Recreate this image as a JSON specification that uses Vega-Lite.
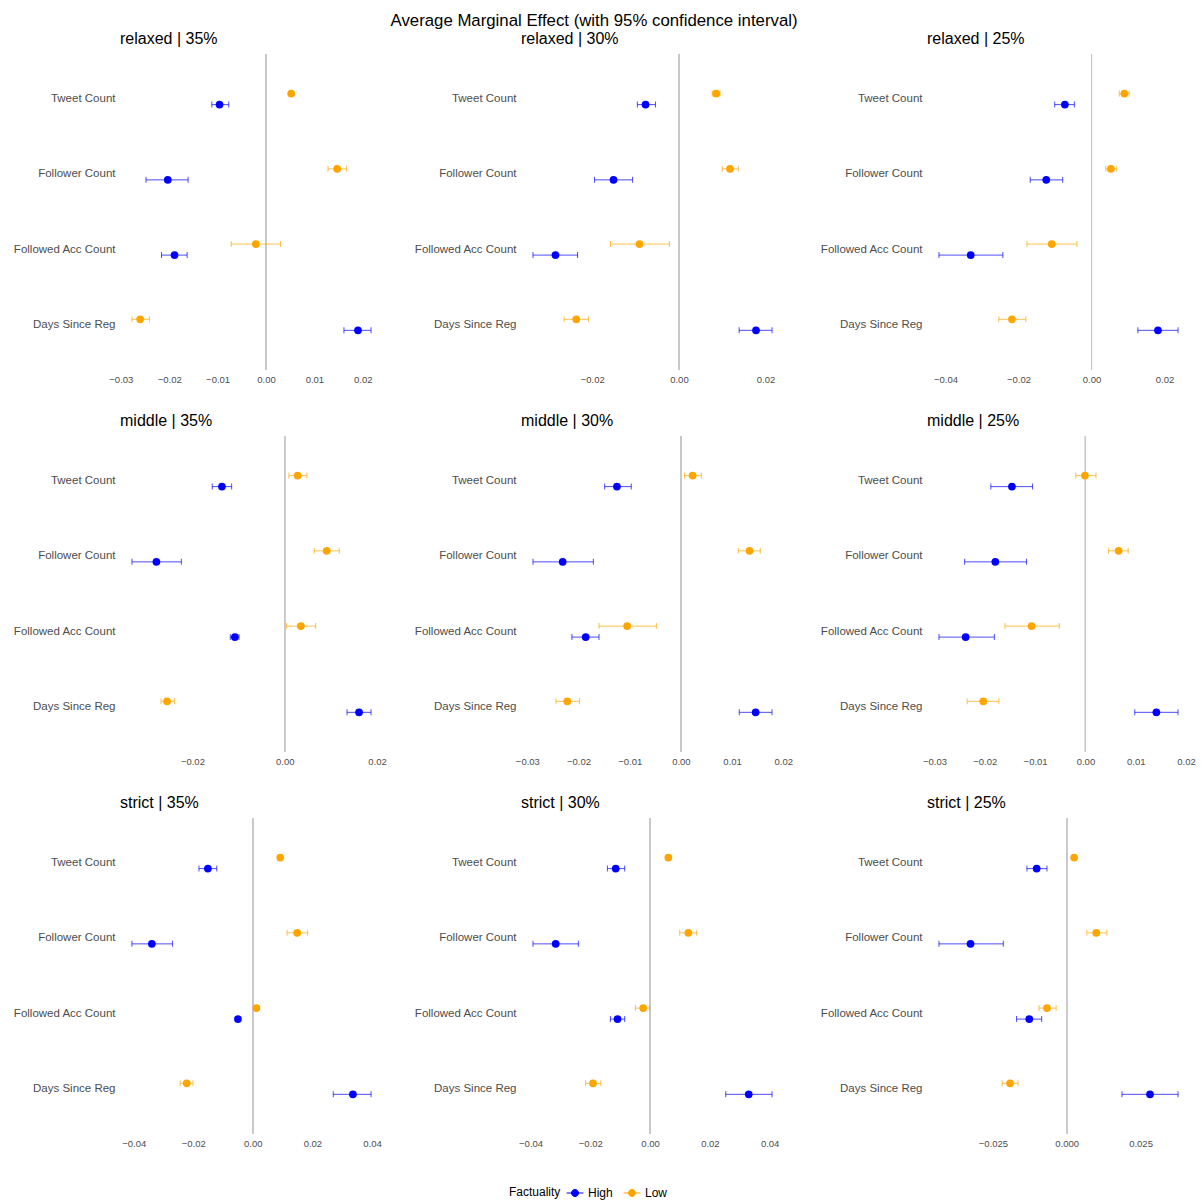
{
  "$schema": "https://vega.github.io/schema/vega-lite/v6.json",
  "background": "white",
  "padding": {"left": 12, "top": 12, "right": 5, "bottom": 5},
  "title": {"text": "Average Marginal Effect (with 95% confidence interval)", "anchor": "middle", "frame": "bounds", "fontSize": 16.8, "offset": 1, "dx": -10},
  "datasets": {
    "ame": [
      {"panel": "relaxed | 35%", "var": "Tweet Count", "fact": "Low", "est": 0.0052, "lo": 0.0049, "hi": 0.0055},
      {"panel": "relaxed | 35%", "var": "Tweet Count", "fact": "High", "est": -0.0096, "lo": -0.0112, "hi": -0.0077},
      {"panel": "relaxed | 35%", "var": "Follower Count", "fact": "Low", "est": 0.0147, "lo": 0.0128, "hi": 0.0166},
      {"panel": "relaxed | 35%", "var": "Follower Count", "fact": "High", "est": -0.0203, "lo": -0.0248, "hi": -0.0161},
      {"panel": "relaxed | 35%", "var": "Followed Acc Count", "fact": "Low", "est": -0.0021, "lo": -0.0072, "hi": 0.0030},
      {"panel": "relaxed | 35%", "var": "Followed Acc Count", "fact": "High", "est": -0.0189, "lo": -0.0216, "hi": -0.0163},
      {"panel": "relaxed | 35%", "var": "Days Since Reg", "fact": "Low", "est": -0.0260, "lo": -0.0277, "hi": -0.0241},
      {"panel": "relaxed | 35%", "var": "Days Since Reg", "fact": "High", "est": 0.0190, "lo": 0.0161, "hi": 0.0217},

      {"panel": "relaxed | 30%", "var": "Tweet Count", "fact": "Low", "est": 0.0086, "lo": 0.0077, "hi": 0.0095},
      {"panel": "relaxed | 30%", "var": "Tweet Count", "fact": "High", "est": -0.0077, "lo": -0.0096, "hi": -0.0054},
      {"panel": "relaxed | 30%", "var": "Follower Count", "fact": "Low", "est": 0.0118, "lo": 0.0100, "hi": 0.0137},
      {"panel": "relaxed | 30%", "var": "Follower Count", "fact": "High", "est": -0.0151, "lo": -0.0195, "hi": -0.0107},
      {"panel": "relaxed | 30%", "var": "Followed Acc Count", "fact": "Low", "est": -0.0091, "lo": -0.0158, "hi": -0.0022},
      {"panel": "relaxed | 30%", "var": "Followed Acc Count", "fact": "High", "est": -0.0285, "lo": -0.0337, "hi": -0.0234},
      {"panel": "relaxed | 30%", "var": "Days Since Reg", "fact": "Low", "est": -0.0237, "lo": -0.0265, "hi": -0.0209},
      {"panel": "relaxed | 30%", "var": "Days Since Reg", "fact": "High", "est": 0.0178, "lo": 0.0139, "hi": 0.0215},

      {"panel": "relaxed | 25%", "var": "Tweet Count", "fact": "Low", "est": 0.0090, "lo": 0.0076, "hi": 0.0103},
      {"panel": "relaxed | 25%", "var": "Tweet Count", "fact": "High", "est": -0.0073, "lo": -0.0101, "hi": -0.0047},
      {"panel": "relaxed | 25%", "var": "Follower Count", "fact": "Low", "est": 0.0053, "lo": 0.0039, "hi": 0.0069},
      {"panel": "relaxed | 25%", "var": "Follower Count", "fact": "High", "est": -0.0124, "lo": -0.0168, "hi": -0.0079},
      {"panel": "relaxed | 25%", "var": "Followed Acc Count", "fact": "Low", "est": -0.0109, "lo": -0.0177, "hi": -0.0040},
      {"panel": "relaxed | 25%", "var": "Followed Acc Count", "fact": "High", "est": -0.0331, "lo": -0.0418, "hi": -0.0243},
      {"panel": "relaxed | 25%", "var": "Days Since Reg", "fact": "Low", "est": -0.0218, "lo": -0.0254, "hi": -0.0180},
      {"panel": "relaxed | 25%", "var": "Days Since Reg", "fact": "High", "est": 0.0182, "lo": 0.0127, "hi": 0.0237},

      {"panel": "middle | 35%", "var": "Tweet Count", "fact": "Low", "est": 0.0028, "lo": 0.0009, "hi": 0.0048},
      {"panel": "middle | 35%", "var": "Tweet Count", "fact": "High", "est": -0.0136, "lo": -0.0157, "hi": -0.0115},
      {"panel": "middle | 35%", "var": "Follower Count", "fact": "Low", "est": 0.0091, "lo": 0.0064, "hi": 0.0118},
      {"panel": "middle | 35%", "var": "Follower Count", "fact": "High", "est": -0.0278, "lo": -0.0331, "hi": -0.0224},
      {"panel": "middle | 35%", "var": "Followed Acc Count", "fact": "Low", "est": 0.0035, "lo": 0.0004, "hi": 0.0067},
      {"panel": "middle | 35%", "var": "Followed Acc Count", "fact": "High", "est": -0.0108, "lo": -0.0118, "hi": -0.0099},
      {"panel": "middle | 35%", "var": "Days Since Reg", "fact": "Low", "est": -0.0255, "lo": -0.0268, "hi": -0.0239},
      {"panel": "middle | 35%", "var": "Days Since Reg", "fact": "High", "est": 0.0161, "lo": 0.0135, "hi": 0.0187},

      {"panel": "middle | 30%", "var": "Tweet Count", "fact": "Low", "est": 0.0023, "lo": 0.0007, "hi": 0.0040},
      {"panel": "middle | 30%", "var": "Tweet Count", "fact": "High", "est": -0.0125, "lo": -0.0149, "hi": -0.0097},
      {"panel": "middle | 30%", "var": "Follower Count", "fact": "Low", "est": 0.0134, "lo": 0.0112, "hi": 0.0155},
      {"panel": "middle | 30%", "var": "Follower Count", "fact": "High", "est": -0.0231, "lo": -0.0289, "hi": -0.0171},
      {"panel": "middle | 30%", "var": "Followed Acc Count", "fact": "Low", "est": -0.0105, "lo": -0.0160, "hi": -0.0048},
      {"panel": "middle | 30%", "var": "Followed Acc Count", "fact": "High", "est": -0.0186, "lo": -0.0213, "hi": -0.0160},
      {"panel": "middle | 30%", "var": "Days Since Reg", "fact": "Low", "est": -0.0222, "lo": -0.0244, "hi": -0.0198},
      {"panel": "middle | 30%", "var": "Days Since Reg", "fact": "High", "est": 0.0146, "lo": 0.0114, "hi": 0.0178},

      {"panel": "middle | 25%", "var": "Tweet Count", "fact": "Low", "est": -0.0001, "lo": -0.0019, "hi": 0.0021},
      {"panel": "middle | 25%", "var": "Tweet Count", "fact": "High", "est": -0.0146, "lo": -0.0188, "hi": -0.0105},
      {"panel": "middle | 25%", "var": "Follower Count", "fact": "Low", "est": 0.0066, "lo": 0.0046, "hi": 0.0085},
      {"panel": "middle | 25%", "var": "Follower Count", "fact": "High", "est": -0.0179, "lo": -0.0240, "hi": -0.0117},
      {"panel": "middle | 25%", "var": "Followed Acc Count", "fact": "Low", "est": -0.0107, "lo": -0.0160, "hi": -0.0052},
      {"panel": "middle | 25%", "var": "Followed Acc Count", "fact": "High", "est": -0.0238, "lo": -0.0291, "hi": -0.0181},
      {"panel": "middle | 25%", "var": "Days Since Reg", "fact": "Low", "est": -0.0203, "lo": -0.0235, "hi": -0.0172},
      {"panel": "middle | 25%", "var": "Days Since Reg", "fact": "High", "est": 0.0141, "lo": 0.0098, "hi": 0.0184},

      {"panel": "strict | 35%", "var": "Tweet Count", "fact": "Low", "est": 0.0092, "lo": 0.0089, "hi": 0.0095},
      {"panel": "strict | 35%", "var": "Tweet Count", "fact": "High", "est": -0.0151, "lo": -0.0181, "hi": -0.0121},
      {"panel": "strict | 35%", "var": "Follower Count", "fact": "Low", "est": 0.0149, "lo": 0.0115, "hi": 0.0184},
      {"panel": "strict | 35%", "var": "Follower Count", "fact": "High", "est": -0.0339, "lo": -0.0406, "hi": -0.0270},
      {"panel": "strict | 35%", "var": "Followed Acc Count", "fact": "Low", "est": 0.0012, "lo": 0.0009, "hi": 0.0015},
      {"panel": "strict | 35%", "var": "Followed Acc Count", "fact": "High", "est": -0.0050, "lo": -0.0053, "hi": -0.0047},
      {"panel": "strict | 35%", "var": "Days Since Reg", "fact": "Low", "est": -0.0222, "lo": -0.0244, "hi": -0.0201},
      {"panel": "strict | 35%", "var": "Days Since Reg", "fact": "High", "est": 0.0336, "lo": 0.0270, "hi": 0.0397},

      {"panel": "strict | 30%", "var": "Tweet Count", "fact": "Low", "est": 0.0061, "lo": 0.0058, "hi": 0.0064},
      {"panel": "strict | 30%", "var": "Tweet Count", "fact": "High", "est": -0.0115, "lo": -0.0143, "hi": -0.0085},
      {"panel": "strict | 30%", "var": "Follower Count", "fact": "Low", "est": 0.0128, "lo": 0.0099, "hi": 0.0156},
      {"panel": "strict | 30%", "var": "Follower Count", "fact": "High", "est": -0.0316, "lo": -0.0392, "hi": -0.0240},
      {"panel": "strict | 30%", "var": "Followed Acc Count", "fact": "Low", "est": -0.0023, "lo": -0.0049, "hi": -0.0002},
      {"panel": "strict | 30%", "var": "Followed Acc Count", "fact": "High", "est": -0.0109, "lo": -0.0133, "hi": -0.0085},
      {"panel": "strict | 30%", "var": "Days Since Reg", "fact": "Low", "est": -0.0191, "lo": -0.0216, "hi": -0.0165},
      {"panel": "strict | 30%", "var": "Days Since Reg", "fact": "High", "est": 0.0330, "lo": 0.0253, "hi": 0.0408},

      {"panel": "strict | 25%", "var": "Tweet Count", "fact": "Low", "est": 0.0025, "lo": 0.0022, "hi": 0.0028},
      {"panel": "strict | 25%", "var": "Tweet Count", "fact": "High", "est": -0.0102, "lo": -0.0135, "hi": -0.0067},
      {"panel": "strict | 25%", "var": "Follower Count", "fact": "Low", "est": 0.0100, "lo": 0.0068, "hi": 0.0136},
      {"panel": "strict | 25%", "var": "Follower Count", "fact": "High", "est": -0.0326, "lo": -0.0433, "hi": -0.0215},
      {"panel": "strict | 25%", "var": "Followed Acc Count", "fact": "Low", "est": -0.0067, "lo": -0.0094, "hi": -0.0036},
      {"panel": "strict | 25%", "var": "Followed Acc Count", "fact": "High", "est": -0.0127, "lo": -0.0170, "hi": -0.0085},
      {"panel": "strict | 25%", "var": "Days Since Reg", "fact": "Low", "est": -0.0192, "lo": -0.0219, "hi": -0.0165},
      {"panel": "strict | 25%", "var": "Days Since Reg", "fact": "High", "est": 0.0282, "lo": 0.0187, "hi": 0.0377}
    ]
  },
  "data": {"name": "ame"},
  "columns": 3,
  "spacing": {"row": 28, "column": 26},
  "resolve": {"scale": {"color": "shared"}, "legend": {"color": "shared"}},
  "concat": [
    {"title": "relaxed | 35%", "width": 263, "height": 316,
     "transform": [{"filter": {"field": "panel", "equal": "relaxed | 35%"}}],
     "layer": [
      {"mark": {"type": "rule", "color": "#C8C8C8", "strokeWidth": 1}, "encoding": {"x": {"datum": 0, "type": "quantitative", "title": null}}},
      {"mark": {"type": "rule", "strokeWidth": 1, "opacity": 0.7}, "encoding": {"y": {"field": "var", "type": "nominal", "title": null, "sort": null, "scale": {"type": "band", "domain": ["Tweet Count", "Follower Count", "Followed Acc Count", "Days Since Reg"], "paddingInner": 0, "paddingOuter": 0.1}}, "yOffset": {"field": "fact", "type": "nominal", "scale": {"domain": ["Low", "High"], "range": [26.6, 48.6], "paddingInner": 0, "paddingOuter": 0}}, "x": {"field": "lo", "type": "quantitative", "title": null}, "x2": {"field": "hi"}, "color": {"field": "fact", "type": "nominal"}}},
      {"mark": {"type": "tick", "thickness": 1, "size": 6, "opacity": 0.7}, "encoding": {"y": {"field": "var", "type": "nominal", "title": null, "sort": null}, "yOffset": {"field": "fact", "type": "nominal"}, "x": {"field": "lo", "type": "quantitative", "title": null}, "color": {"field": "fact", "type": "nominal"}}},
      {"mark": {"type": "tick", "thickness": 1, "size": 6, "opacity": 0.7}, "encoding": {"y": {"field": "var", "type": "nominal", "title": null, "sort": null}, "yOffset": {"field": "fact", "type": "nominal"}, "x": {"field": "hi", "type": "quantitative", "title": null}, "color": {"field": "fact", "type": "nominal"}}},
      {"mark": {"type": "point", "filled": true, "size": 60, "opacity": 1}, "encoding": {"y": {"field": "var", "type": "nominal", "title": null, "sort": null}, "yOffset": {"field": "fact", "type": "nominal"}, "x": {"field": "est", "type": "quantitative", "title": null, "scale": {"domain": [-0.03017, 0.02417], "nice": false, "zero": false}, "axis": {"values": [-0.03, -0.02, -0.01, 0, 0.01, 0.02], "format": ".2f"}}, "color": {"field": "fact", "type": "nominal", "scale": {"domain": ["High", "Low"], "range": ["#0000FF", "#FFA500"]}, "legend": {"title": "Factuality", "orient": "none", "legendX": 389, "legendY": 1130, "direction": "horizontal", "titleOrient": "left", "encoding": {"symbols": {"update": {"stroke": {"scale": "color", "field": "value"}, "fill": {"scale": "color", "field": "value"}}}}}}}}
     ]},
    {"title": "relaxed | 30%", "width": 263, "height": 316,
     "transform": [{"filter": {"field": "panel", "equal": "relaxed | 30%"}}],
     "layer": [
      {"mark": {"type": "rule", "color": "#C8C8C8", "strokeWidth": 1}, "encoding": {"x": {"datum": 0, "type": "quantitative", "title": null}}},
      {"mark": {"type": "rule", "strokeWidth": 1, "opacity": 0.7}, "encoding": {"y": {"field": "var", "type": "nominal", "title": null, "sort": null, "scale": {"type": "band", "domain": ["Tweet Count", "Follower Count", "Followed Acc Count", "Days Since Reg"], "paddingInner": 0, "paddingOuter": 0.1}}, "yOffset": {"field": "fact", "type": "nominal", "scale": {"domain": ["Low", "High"], "range": [26.6, 48.6], "paddingInner": 0, "paddingOuter": 0}}, "x": {"field": "lo", "type": "quantitative", "title": null}, "x2": {"field": "hi"}, "color": {"field": "fact", "type": "nominal"}}},
      {"mark": {"type": "tick", "thickness": 1, "size": 6, "opacity": 0.7}, "encoding": {"y": {"field": "var", "type": "nominal", "title": null, "sort": null}, "yOffset": {"field": "fact", "type": "nominal"}, "x": {"field": "lo", "type": "quantitative", "title": null}, "color": {"field": "fact", "type": "nominal"}}},
      {"mark": {"type": "tick", "thickness": 1, "size": 6, "opacity": 0.7}, "encoding": {"y": {"field": "var", "type": "nominal", "title": null, "sort": null}, "yOffset": {"field": "fact", "type": "nominal"}, "x": {"field": "hi", "type": "quantitative", "title": null}, "color": {"field": "fact", "type": "nominal"}}},
      {"mark": {"type": "point", "filled": true, "size": 60, "opacity": 1}, "encoding": {"y": {"field": "var", "type": "nominal", "title": null, "sort": null}, "yOffset": {"field": "fact", "type": "nominal"}, "x": {"field": "est", "type": "quantitative", "title": null, "scale": {"domain": [-0.03646, 0.02426], "nice": false, "zero": false}, "axis": {"values": [-0.02, 0, 0.02], "format": ".2f"}}, "color": {"field": "fact", "type": "nominal", "scale": {"domain": ["High", "Low"], "range": ["#0000FF", "#FFA500"]}}}}
     ]},
    {"title": "relaxed | 25%", "width": 263, "height": 316,
     "transform": [{"filter": {"field": "panel", "equal": "relaxed | 25%"}}],
     "layer": [
      {"mark": {"type": "rule", "color": "#C8C8C8", "strokeWidth": 1}, "encoding": {"x": {"datum": 0, "type": "quantitative", "title": null}}},
      {"mark": {"type": "rule", "strokeWidth": 1, "opacity": 0.7}, "encoding": {"y": {"field": "var", "type": "nominal", "title": null, "sort": null, "scale": {"type": "band", "domain": ["Tweet Count", "Follower Count", "Followed Acc Count", "Days Since Reg"], "paddingInner": 0, "paddingOuter": 0.1}}, "yOffset": {"field": "fact", "type": "nominal", "scale": {"domain": ["Low", "High"], "range": [26.6, 48.6], "paddingInner": 0, "paddingOuter": 0}}, "x": {"field": "lo", "type": "quantitative", "title": null}, "x2": {"field": "hi"}, "color": {"field": "fact", "type": "nominal"}}},
      {"mark": {"type": "tick", "thickness": 1, "size": 6, "opacity": 0.7}, "encoding": {"y": {"field": "var", "type": "nominal", "title": null, "sort": null}, "yOffset": {"field": "fact", "type": "nominal"}, "x": {"field": "lo", "type": "quantitative", "title": null}, "color": {"field": "fact", "type": "nominal"}}},
      {"mark": {"type": "tick", "thickness": 1, "size": 6, "opacity": 0.7}, "encoding": {"y": {"field": "var", "type": "nominal", "title": null, "sort": null}, "yOffset": {"field": "fact", "type": "nominal"}, "x": {"field": "hi", "type": "quantitative", "title": null}, "color": {"field": "fact", "type": "nominal"}}},
      {"mark": {"type": "point", "filled": true, "size": 60, "opacity": 1}, "encoding": {"y": {"field": "var", "type": "nominal", "title": null, "sort": null}, "yOffset": {"field": "fact", "type": "nominal"}, "x": {"field": "est", "type": "quantitative", "title": null, "scale": {"domain": [-0.04508, 0.02698], "nice": false, "zero": false}, "axis": {"values": [-0.04, -0.02, 0, 0.02], "format": ".2f"}}, "color": {"field": "fact", "type": "nominal", "scale": {"domain": ["High", "Low"], "range": ["#0000FF", "#FFA500"]}}}}
     ]},
    {"title": "middle | 35%", "width": 263, "height": 316,
     "transform": [{"filter": {"field": "panel", "equal": "middle | 35%"}}],
     "layer": [
      {"mark": {"type": "rule", "color": "#C8C8C8", "strokeWidth": 1}, "encoding": {"x": {"datum": 0, "type": "quantitative", "title": null}}},
      {"mark": {"type": "rule", "strokeWidth": 1, "opacity": 0.7}, "encoding": {"y": {"field": "var", "type": "nominal", "title": null, "sort": null, "scale": {"type": "band", "domain": ["Tweet Count", "Follower Count", "Followed Acc Count", "Days Since Reg"], "paddingInner": 0, "paddingOuter": 0.1}}, "yOffset": {"field": "fact", "type": "nominal", "scale": {"domain": ["Low", "High"], "range": [26.6, 48.6], "paddingInner": 0, "paddingOuter": 0}}, "x": {"field": "lo", "type": "quantitative", "title": null}, "x2": {"field": "hi"}, "color": {"field": "fact", "type": "nominal"}}},
      {"mark": {"type": "tick", "thickness": 1, "size": 6, "opacity": 0.7}, "encoding": {"y": {"field": "var", "type": "nominal", "title": null, "sort": null}, "yOffset": {"field": "fact", "type": "nominal"}, "x": {"field": "lo", "type": "quantitative", "title": null}, "color": {"field": "fact", "type": "nominal"}}},
      {"mark": {"type": "tick", "thickness": 1, "size": 6, "opacity": 0.7}, "encoding": {"y": {"field": "var", "type": "nominal", "title": null, "sort": null}, "yOffset": {"field": "fact", "type": "nominal"}, "x": {"field": "hi", "type": "quantitative", "title": null}, "color": {"field": "fact", "type": "nominal"}}},
      {"mark": {"type": "point", "filled": true, "size": 60, "opacity": 1}, "encoding": {"y": {"field": "var", "type": "nominal", "title": null, "sort": null}, "yOffset": {"field": "fact", "type": "nominal"}, "x": {"field": "est", "type": "quantitative", "title": null, "scale": {"domain": [-0.03569, 0.02129], "nice": false, "zero": false}, "axis": {"values": [-0.02, 0, 0.02], "format": ".2f"}}, "color": {"field": "fact", "type": "nominal", "scale": {"domain": ["High", "Low"], "range": ["#0000FF", "#FFA500"]}}}}
     ]},
    {"title": "middle | 30%", "width": 263, "height": 316,
     "transform": [{"filter": {"field": "panel", "equal": "middle | 30%"}}],
     "layer": [
      {"mark": {"type": "rule", "color": "#C8C8C8", "strokeWidth": 1}, "encoding": {"x": {"datum": 0, "type": "quantitative", "title": null}}},
      {"mark": {"type": "rule", "strokeWidth": 1, "opacity": 0.7}, "encoding": {"y": {"field": "var", "type": "nominal", "title": null, "sort": null, "scale": {"type": "band", "domain": ["Tweet Count", "Follower Count", "Followed Acc Count", "Days Since Reg"], "paddingInner": 0, "paddingOuter": 0.1}}, "yOffset": {"field": "fact", "type": "nominal", "scale": {"domain": ["Low", "High"], "range": [26.6, 48.6], "paddingInner": 0, "paddingOuter": 0}}, "x": {"field": "lo", "type": "quantitative", "title": null}, "x2": {"field": "hi"}, "color": {"field": "fact", "type": "nominal"}}},
      {"mark": {"type": "tick", "thickness": 1, "size": 6, "opacity": 0.7}, "encoding": {"y": {"field": "var", "type": "nominal", "title": null, "sort": null}, "yOffset": {"field": "fact", "type": "nominal"}, "x": {"field": "lo", "type": "quantitative", "title": null}, "color": {"field": "fact", "type": "nominal"}}},
      {"mark": {"type": "tick", "thickness": 1, "size": 6, "opacity": 0.7}, "encoding": {"y": {"field": "var", "type": "nominal", "title": null, "sort": null}, "yOffset": {"field": "fact", "type": "nominal"}, "x": {"field": "hi", "type": "quantitative", "title": null}, "color": {"field": "fact", "type": "nominal"}}},
      {"mark": {"type": "point", "filled": true, "size": 60, "opacity": 1}, "encoding": {"y": {"field": "var", "type": "nominal", "title": null, "sort": null}, "yOffset": {"field": "fact", "type": "nominal"}, "x": {"field": "est", "type": "quantitative", "title": null, "scale": {"domain": [-0.03124, 0.02014], "nice": false, "zero": false}, "axis": {"values": [-0.03, -0.02, -0.01, 0, 0.01, 0.02], "format": ".2f"}}, "color": {"field": "fact", "type": "nominal", "scale": {"domain": ["High", "Low"], "range": ["#0000FF", "#FFA500"]}}}}
     ]},
    {"title": "middle | 25%", "width": 263, "height": 316,
     "transform": [{"filter": {"field": "panel", "equal": "middle | 25%"}}],
     "layer": [
      {"mark": {"type": "rule", "color": "#C8C8C8", "strokeWidth": 1}, "encoding": {"x": {"datum": 0, "type": "quantitative", "title": null}}},
      {"mark": {"type": "rule", "strokeWidth": 1, "opacity": 0.7}, "encoding": {"y": {"field": "var", "type": "nominal", "title": null, "sort": null, "scale": {"type": "band", "domain": ["Tweet Count", "Follower Count", "Followed Acc Count", "Days Since Reg"], "paddingInner": 0, "paddingOuter": 0.1}}, "yOffset": {"field": "fact", "type": "nominal", "scale": {"domain": ["Low", "High"], "range": [26.6, 48.6], "paddingInner": 0, "paddingOuter": 0}}, "x": {"field": "lo", "type": "quantitative", "title": null}, "x2": {"field": "hi"}, "color": {"field": "fact", "type": "nominal"}}},
      {"mark": {"type": "tick", "thickness": 1, "size": 6, "opacity": 0.7}, "encoding": {"y": {"field": "var", "type": "nominal", "title": null, "sort": null}, "yOffset": {"field": "fact", "type": "nominal"}, "x": {"field": "lo", "type": "quantitative", "title": null}, "color": {"field": "fact", "type": "nominal"}}},
      {"mark": {"type": "tick", "thickness": 1, "size": 6, "opacity": 0.7}, "encoding": {"y": {"field": "var", "type": "nominal", "title": null, "sort": null}, "yOffset": {"field": "fact", "type": "nominal"}, "x": {"field": "hi", "type": "quantitative", "title": null}, "color": {"field": "fact", "type": "nominal"}}},
      {"mark": {"type": "point", "filled": true, "size": 60, "opacity": 1}, "encoding": {"y": {"field": "var", "type": "nominal", "title": null, "sort": null}, "yOffset": {"field": "fact", "type": "nominal"}, "x": {"field": "est", "type": "quantitative", "title": null, "scale": {"domain": [-0.03148, 0.02078], "nice": false, "zero": false}, "axis": {"values": [-0.03, -0.02, -0.01, 0, 0.01, 0.02], "format": ".2f"}}, "color": {"field": "fact", "type": "nominal", "scale": {"domain": ["High", "Low"], "range": ["#0000FF", "#FFA500"]}}}}
     ]},
    {"title": "strict | 35%", "width": 263, "height": 316,
     "transform": [{"filter": {"field": "panel", "equal": "strict | 35%"}}],
     "layer": [
      {"mark": {"type": "rule", "color": "#C8C8C8", "strokeWidth": 1}, "encoding": {"x": {"datum": 0, "type": "quantitative", "title": null}}},
      {"mark": {"type": "rule", "strokeWidth": 1, "opacity": 0.7}, "encoding": {"y": {"field": "var", "type": "nominal", "title": null, "sort": null, "scale": {"type": "band", "domain": ["Tweet Count", "Follower Count", "Followed Acc Count", "Days Since Reg"], "paddingInner": 0, "paddingOuter": 0.1}}, "yOffset": {"field": "fact", "type": "nominal", "scale": {"domain": ["Low", "High"], "range": [26.6, 48.6], "paddingInner": 0, "paddingOuter": 0}}, "x": {"field": "lo", "type": "quantitative", "title": null}, "x2": {"field": "hi"}, "color": {"field": "fact", "type": "nominal"}}},
      {"mark": {"type": "tick", "thickness": 1, "size": 6, "opacity": 0.7}, "encoding": {"y": {"field": "var", "type": "nominal", "title": null, "sort": null}, "yOffset": {"field": "fact", "type": "nominal"}, "x": {"field": "lo", "type": "quantitative", "title": null}, "color": {"field": "fact", "type": "nominal"}}},
      {"mark": {"type": "tick", "thickness": 1, "size": 6, "opacity": 0.7}, "encoding": {"y": {"field": "var", "type": "nominal", "title": null, "sort": null}, "yOffset": {"field": "fact", "type": "nominal"}, "x": {"field": "hi", "type": "quantitative", "title": null}, "color": {"field": "fact", "type": "nominal"}}},
      {"mark": {"type": "point", "filled": true, "size": 60, "opacity": 1}, "encoding": {"y": {"field": "var", "type": "nominal", "title": null, "sort": null}, "yOffset": {"field": "fact", "type": "nominal"}, "x": {"field": "est", "type": "quantitative", "title": null, "scale": {"domain": [-0.0446, 0.0437], "nice": false, "zero": false}, "axis": {"values": [-0.04, -0.02, 0, 0.02, 0.04], "format": ".2f"}}, "color": {"field": "fact", "type": "nominal", "scale": {"domain": ["High", "Low"], "range": ["#0000FF", "#FFA500"]}}}}
     ]},
    {"title": "strict | 30%", "width": 263, "height": 316,
     "transform": [{"filter": {"field": "panel", "equal": "strict | 30%"}}],
     "layer": [
      {"mark": {"type": "rule", "color": "#C8C8C8", "strokeWidth": 1}, "encoding": {"x": {"datum": 0, "type": "quantitative", "title": null}}},
      {"mark": {"type": "rule", "strokeWidth": 1, "opacity": 0.7}, "encoding": {"y": {"field": "var", "type": "nominal", "title": null, "sort": null, "scale": {"type": "band", "domain": ["Tweet Count", "Follower Count", "Followed Acc Count", "Days Since Reg"], "paddingInner": 0, "paddingOuter": 0.1}}, "yOffset": {"field": "fact", "type": "nominal", "scale": {"domain": ["Low", "High"], "range": [26.6, 48.6], "paddingInner": 0, "paddingOuter": 0}}, "x": {"field": "lo", "type": "quantitative", "title": null}, "x2": {"field": "hi"}, "color": {"field": "fact", "type": "nominal"}}},
      {"mark": {"type": "tick", "thickness": 1, "size": 6, "opacity": 0.7}, "encoding": {"y": {"field": "var", "type": "nominal", "title": null, "sort": null}, "yOffset": {"field": "fact", "type": "nominal"}, "x": {"field": "lo", "type": "quantitative", "title": null}, "color": {"field": "fact", "type": "nominal"}}},
      {"mark": {"type": "tick", "thickness": 1, "size": 6, "opacity": 0.7}, "encoding": {"y": {"field": "var", "type": "nominal", "title": null, "sort": null}, "yOffset": {"field": "fact", "type": "nominal"}, "x": {"field": "hi", "type": "quantitative", "title": null}, "color": {"field": "fact", "type": "nominal"}}},
      {"mark": {"type": "point", "filled": true, "size": 60, "opacity": 1}, "encoding": {"y": {"field": "var", "type": "nominal", "title": null, "sort": null}, "yOffset": {"field": "fact", "type": "nominal"}, "x": {"field": "est", "type": "quantitative", "title": null, "scale": {"domain": [-0.0432, 0.0448], "nice": false, "zero": false}, "axis": {"values": [-0.04, -0.02, 0, 0.02, 0.04], "format": ".2f"}}, "color": {"field": "fact", "type": "nominal", "scale": {"domain": ["High", "Low"], "range": ["#0000FF", "#FFA500"]}}}}
     ]},
    {"title": "strict | 25%", "width": 263, "height": 316,
     "transform": [{"filter": {"field": "panel", "equal": "strict | 25%"}}],
     "layer": [
      {"mark": {"type": "rule", "color": "#C8C8C8", "strokeWidth": 1}, "encoding": {"x": {"datum": 0, "type": "quantitative", "title": null}}},
      {"mark": {"type": "rule", "strokeWidth": 1, "opacity": 0.7}, "encoding": {"y": {"field": "var", "type": "nominal", "title": null, "sort": null, "scale": {"type": "band", "domain": ["Tweet Count", "Follower Count", "Followed Acc Count", "Days Since Reg"], "paddingInner": 0, "paddingOuter": 0.1}}, "yOffset": {"field": "fact", "type": "nominal", "scale": {"domain": ["Low", "High"], "range": [26.6, 48.6], "paddingInner": 0, "paddingOuter": 0}}, "x": {"field": "lo", "type": "quantitative", "title": null}, "x2": {"field": "hi"}, "color": {"field": "fact", "type": "nominal"}}},
      {"mark": {"type": "tick", "thickness": 1, "size": 6, "opacity": 0.7}, "encoding": {"y": {"field": "var", "type": "nominal", "title": null, "sort": null}, "yOffset": {"field": "fact", "type": "nominal"}, "x": {"field": "lo", "type": "quantitative", "title": null}, "color": {"field": "fact", "type": "nominal"}}},
      {"mark": {"type": "tick", "thickness": 1, "size": 6, "opacity": 0.7}, "encoding": {"y": {"field": "var", "type": "nominal", "title": null, "sort": null}, "yOffset": {"field": "fact", "type": "nominal"}, "x": {"field": "hi", "type": "quantitative", "title": null}, "color": {"field": "fact", "type": "nominal"}}},
      {"mark": {"type": "point", "filled": true, "size": 60, "opacity": 1}, "encoding": {"y": {"field": "var", "type": "nominal", "title": null, "sort": null}, "yOffset": {"field": "fact", "type": "nominal"}, "x": {"field": "est", "type": "quantitative", "title": null, "scale": {"domain": [-0.04735, 0.04175], "nice": false, "zero": false}, "axis": {"values": [-0.025, 0, 0.025], "format": ".3f"}}, "color": {"field": "fact", "type": "nominal", "scale": {"domain": ["High", "Low"], "range": ["#0000FF", "#FFA500"]}}}}
     ]}
  ],
  "config": {
    "font": "Liberation Sans",
    "view": {"stroke": null},
    "title": {"fontWeight": "normal", "color": "#000000", "fontSize": 16, "anchor": "start", "frame": "group", "offset": 7},
    "axis": {"grid": false, "ticks": false, "domain": false, "labelColor": "#4D4D4D", "labelFont": "Liberation Sans", "labelFlush": false},
    "axisX": {"labelFontSize": 9.5, "labelPadding": 4},
    "axisY": {"labelFontSize": 11.5, "labelPadding": 5},
    "legend": {"labelFontSize": 12, "titleFontSize": 12, "titleFontWeight": "normal", "titleColor": "#000000", "labelColor": "#000000", "columnPadding": 8, "symbolType": "M-1,0H1M0.42,0A0.42,0.42,0,1,1,-0.42,0A0.42,0.42,0,1,1,0.42,0Z", "symbolSize": 280, "symbolStrokeWidth": 1, "symbolOpacity": 1}
  }
}
